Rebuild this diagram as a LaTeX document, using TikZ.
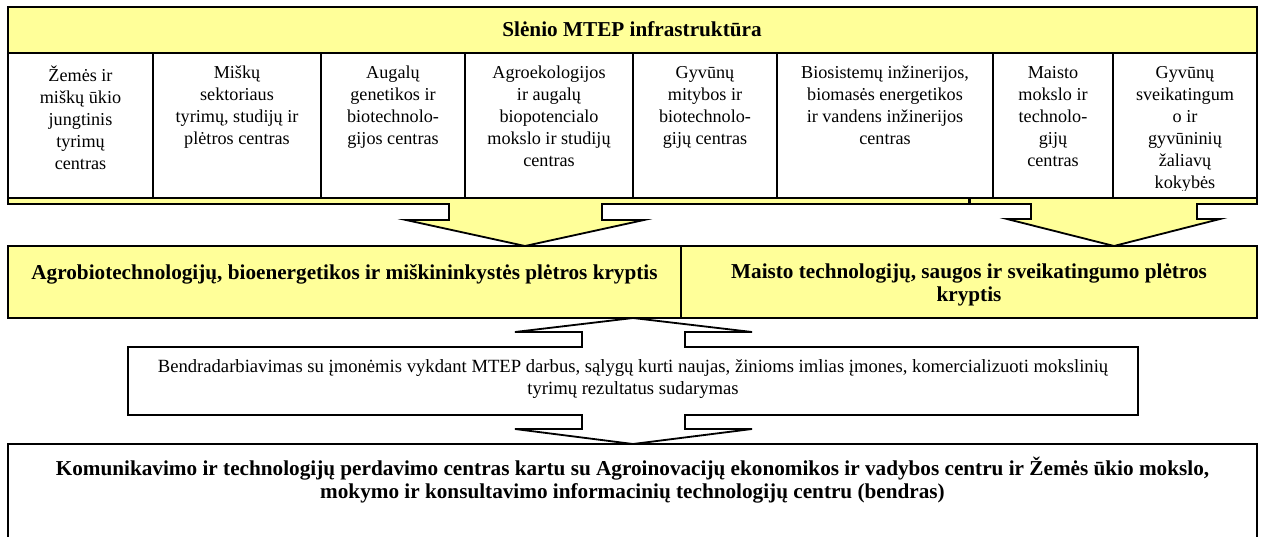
\documentclass[tikz,border=0pt]{standalone}
\usepackage{fontspec}
\setmainfont{Liberation Serif}
\definecolor{yel}{RGB}{255,255,153}
\begin{document}
\begin{tikzpicture}[x=0.66pt,y=-0.66pt,
  box/.style={draw=black,line width=1.2pt},
  lbl/.style={inner sep=0pt,align=center,font=\fontsize{12pt}{14.5pt}\selectfont,execute at begin node=\strut},
  mlbl/.style={lbl,font=\fontsize{12.3pt}{14.6pt}\selectfont},
  blbl/.style={lbl,font=\fontsize{14pt}{15.3pt}\selectfont\bfseries},
  cell/.style={lbl,anchor=north}]
\useasboundingbox (0,0) rectangle (1262,536);
\clip (0,0) rectangle (1262,536);
\fill[white] (0,0) rectangle (1262,536);
% callout arrows from the infrastructure block
\draw[box,fill=yel] (8,150) -- (969,150) -- (969,204) -- (602,204) -- (602,220) -- (644,220) -- (525,246) -- (406,220) -- (449,220) -- (449,204) -- (8,204) -- cycle;
\draw[box,fill=yel] (970,150) -- (1257,150) -- (1257,204) -- (1197,204) -- (1197,219) -- (1220,219) -- (1114,246) -- (1007,219) -- (1031,219) -- (1031,204) -- (970,204) -- cycle;
% infrastructure table
\draw[box,fill=yel] (8,7) rectangle (1257,53);
\draw[box,fill=white] (8,53) rectangle (1257,198);
\foreach \xx in {153,321,465,633,777,993,1113}{\draw[box] (\xx,53) -- (\xx,198);}
\node[blbl,anchor=base] (title) at (632,36.5) {Slėnio MTEP infrastruktūra};
\node[cell] (c1) at (80.5,66) {Žemės ir\\miškų ūkio\\jungtinis\\tyrimų\\centras};
\node[cell] (c2) at (237,66) {Miškų\\sektoriaus\\tyrimų, studijų ir\\plėtros centras};
\node[cell] (c3) at (393,66) {Augalų\\genetikos ir\\biotechnolo-\\gijos centras};
\node[cell] (c4) at (549,66) {Agroekologijos\\ir augalų\\biopotencialo\\mokslo ir studijų\\centras};
\node[cell] (c5) at (705,66) {Gyvūnų\\mitybos ir\\biotechnolo-\\gijų centras};
\node[cell] (c6) at (885,66) {Biosistemų inžinerijos,\\biomasės energetikos\\ir vandens inžinerijos\\centras};
\node[cell] (c7) at (1053,66) {Maisto\\mokslo ir\\technolo-\\gijų\\centras};
\begin{scope}
\clip (1113,53) rectangle (1257,190);
\node[cell] (c8) at (1185,66) {Gyvūnų\\sveikatingum\\o ir\\gyvūninių\\žaliavų\\kokybės};
\end{scope}
% development directions
\draw[box,fill=yel] (8,246) rectangle (681,318);
\draw[box,fill=yel] (681,246) rectangle (1257,318);
\node[blbl,anchor=north] (dir1) at (344.5,263) {Agrobiotechnologijų, bioenergetikos ir miškininkystės plėtros kryptis};
\node[blbl,anchor=north] (dir2) at (969,263) {Maisto technologijų, saugos ir sveikatingumo plėtros\\kryptis};
% cooperation box with up/down arrows
\draw[box,fill=white] (128,347) -- (582,347) -- (582,332) -- (515,332) -- (633,318) -- (752,332) -- (685,332) -- (685,347) -- (1138,347) -- (1138,415) -- (685,415) -- (685,429) -- (752,429) -- (633,444) -- (515,429) -- (582,429) -- (582,415) -- (128,415) -- cycle;
\node[mlbl,anchor=north] (coop) at (633,359) {Bendradarbiavimas su įmonėmis vykdant MTEP darbus, sąlygų kurti naujas, žinioms imlias įmones, komercializuoti mokslinių\\tyrimų rezultatus sudarymas};
% bottom centre
\draw[box,fill=white] (8,560) -- (8,444) -- (1257,444) -- (1257,560);
\node[blbl,anchor=north] (comm) at (632.5,457) {Komunikavimo ir technologijų perdavimo centras kartu su Agroinovacijų ekonomikos ir vadybos centru ir Žemės ūkio mokslo,\\mokymo ir konsultavimo informacinių technologijų centru (bendras)};
\end{tikzpicture}
\end{document}
